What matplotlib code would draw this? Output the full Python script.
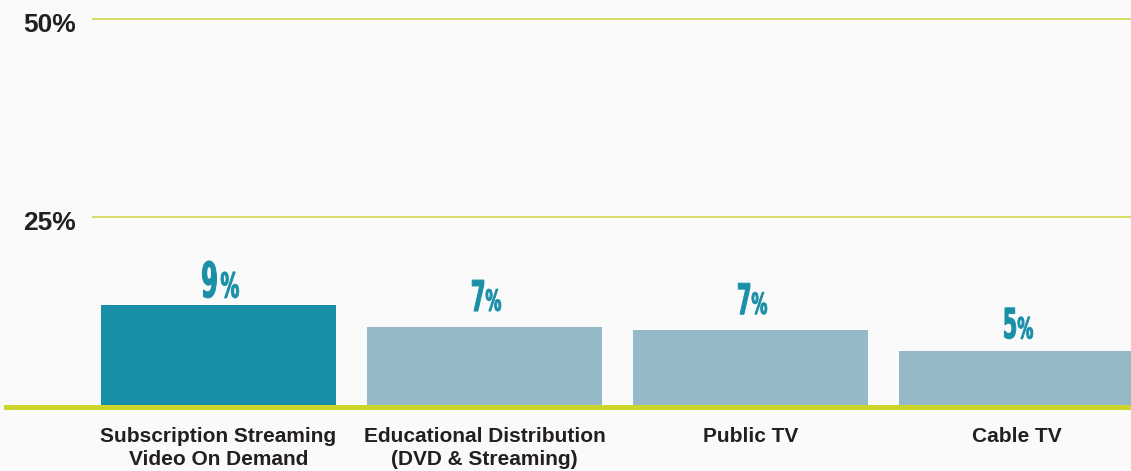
#橫條圖：各發行管道佔比
import matplotlib
matplotlib.use("Agg")
import matplotlib.pyplot as plt
import matplotlib.transforms as mtransforms
from matplotlib.textpath import TextPath
from matplotlib.patches import PathPatch
from matplotlib.font_manager import FontProperties
from matplotlib.lines import Line2D

# 資料
categories = ["Subscription Streaming\nVideo On Demand",
              "Educational Distribution\n(DVD & Streaming)",
              "Public TV",
              "Cable TV"]
bar_heights = [13.9, 11.1, 10.7, 8.1]     # 由圖上量得的長條高度
value_labels = ["9", "7", "7", "5"]       # 長條上方標示的數字
y_ticks = [25, 50]
y_tick_labels = ["25%", "50%"]

bg = "#fafafa"
teal = "#188ea7"
light = "#96b9c8"
label_col = "#1a8fa8"
grid_col = "#d5da5a"
base_col = "#cdd42a"

plt.rcParams['font.family'] = ['Liberation Sans', 'DejaVu Sans']

fig = plt.figure(figsize=(11.31, 4.71), dpi=100, facecolor=bg)
ax = fig.add_axes([92/1131, 66/471, 1039/1131, 405/471])
ax.set_facecolor(bg)

x = list(range(len(categories)))
colors = [teal] + [light]*(len(categories)-1)
ax.bar(x, bar_heights, width=0.883, color=colors, zorder=2)

ax.set_xlim(-0.4756, 3.43)
ax.set_ylim(1.26, 52.4)

ax.set_yticks(y_ticks)
ax.grid(axis='y', color=grid_col, linewidth=1.3, zorder=1)
ax.tick_params(left=False, labelleft=False, bottom=False)
for s in ax.spines.values():
    s.set_visible(False)

ax.set_xticks(x, categories, fontsize=15, fontweight='bold', color='#231f20',
              linespacing=1.3)
ax.tick_params(axis='x', pad=12)

# y 軸標籤，放在格線略下方
off = mtransforms.ScaledTranslation(0, -13/100, fig.dpi_scale_trans)
for v, t in zip(y_ticks, y_tick_labels):
    ax.text(-16/1039, v, t, transform=ax.get_yaxis_transform() + off,
            ha='right', va='baseline', fontsize=19, fontweight='bold',
            color='#231f20')

# 底線
fig.add_artist(Line2D([6/1131, 1], [(471-407)/471]*2, lw=3.6,
                      color=base_col, zorder=5))

# 窄體數字標籤（用 TextPath 水平壓縮）
fp = FontProperties(family='DejaVu Sans', weight='bold')

def glyph(s, h, squeeze):
    p = TextPath((0, 0), s, size=100, prop=fp)
    e = p.get_extents()
    sy = h / e.height
    sx = sy * squeeze
    w = e.width * sx
    t = mtransforms.Affine2D().translate(-e.x0, -e.y0).scale(sx, sy)
    return p, t, w

def add_label(i, txt, gap, big):
    if big:
        dh, ph, sep = 37, 26, 4.5
    else:
        dh, ph, sep = 31, 22, 2
    p1, t1, w1 = glyph(txt, dh, 0.5)
    p2, t2, w2 = glyph("%", ph, 0.55)
    total = w1 + sep + w2
    x0 = -total/2 + 2
    anchor = mtransforms.ScaledTranslation(i, bar_heights[i], ax.transData)
    for p, t, dx in [(p1, t1, x0), (p2, t2, x0 + w1 + sep)]:
        tr = t + mtransforms.Affine2D().translate(dx, gap) + anchor
        ax.add_artist(PathPatch(p, transform=tr, facecolor=label_col,
                                edgecolor=label_col, linewidth=0.7,
                                clip_on=False, zorder=4))

gaps = [7, 16, 16, 12]
for i, txt in enumerate(value_labels):
    add_label(i, txt, gaps[i], i == 0)

fig.savefig("out.png", dpi=100, facecolor=bg)
